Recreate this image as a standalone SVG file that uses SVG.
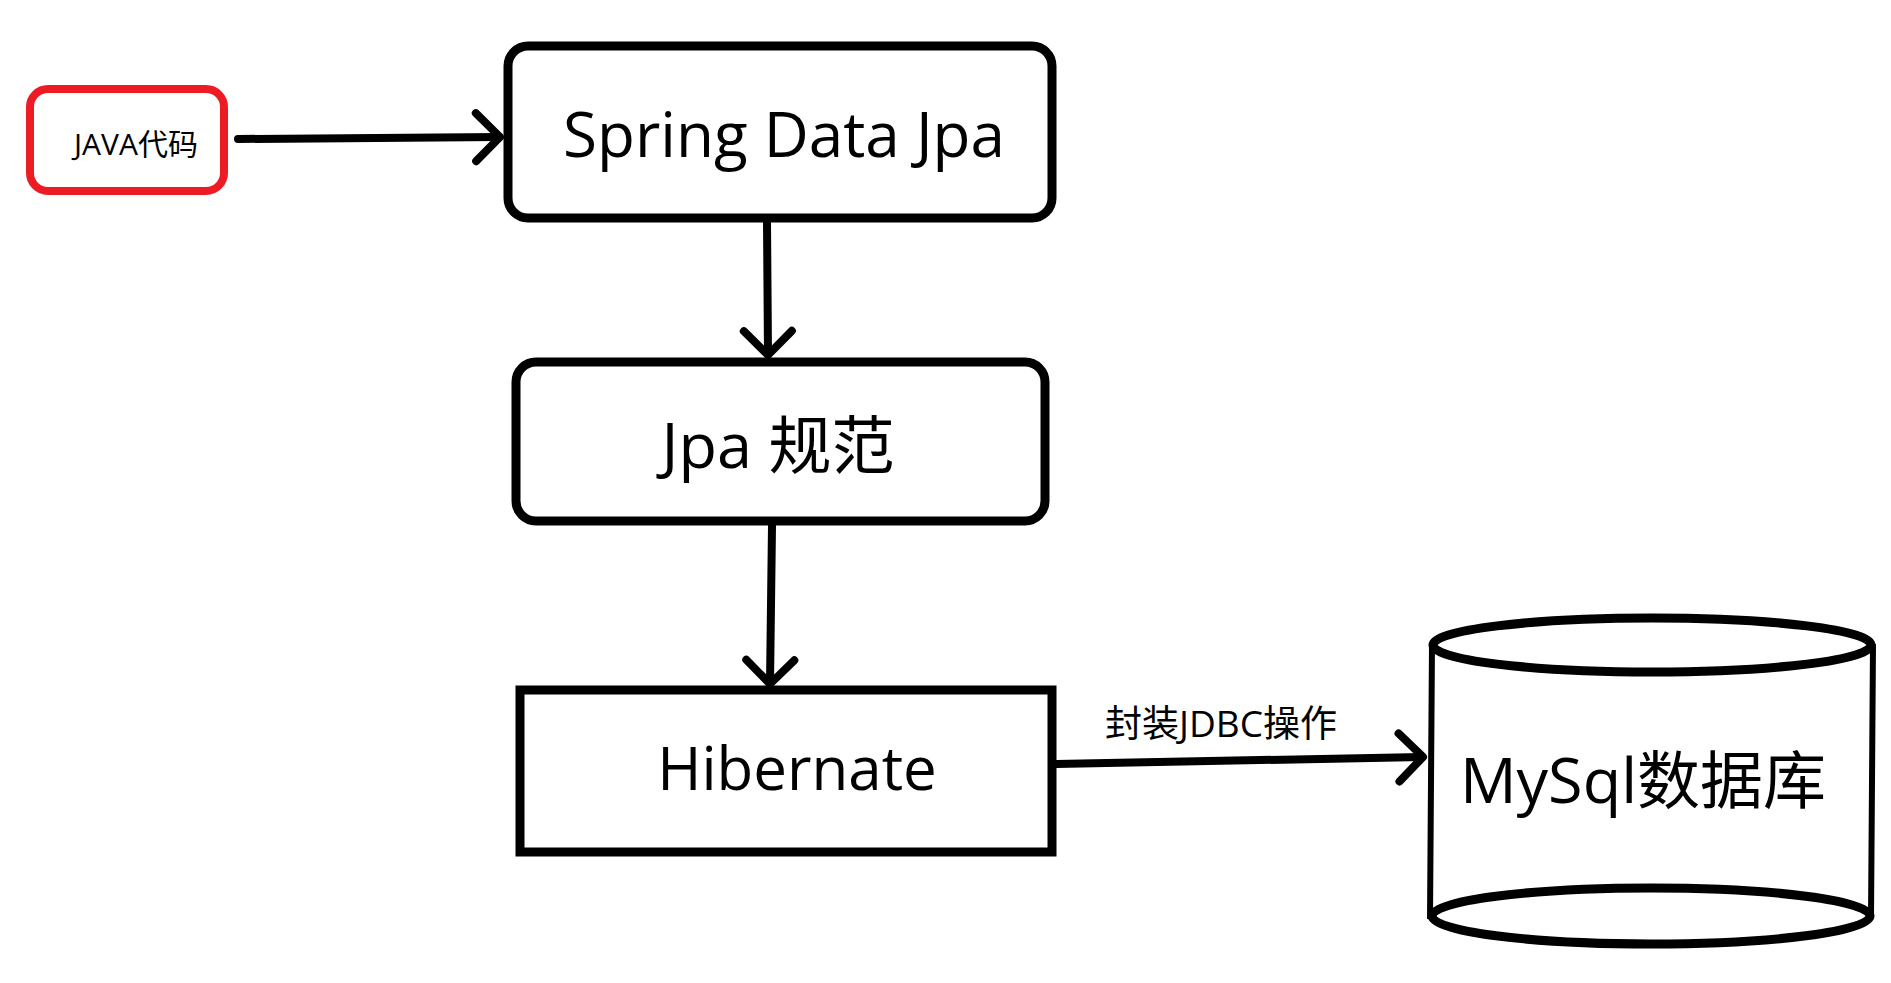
<svg xmlns="http://www.w3.org/2000/svg" width="1891" height="983" viewBox="0 0 1891 983">
<style>
.box{fill:#fff;stroke:#000;stroke-width:9}
.red{fill:#fff;stroke:#ed1c24;stroke-width:8}
.t{font-family:"Open Sans","Noto Sans CJK SC",sans-serif;fill:#000;text-anchor:middle}
.edge{stroke:#000;stroke-width:8;fill:none;stroke-linecap:round;marker-end:url(#chev)}
.cyl{stroke:#000;fill:none}
</style>
<defs>
<marker id="chev" viewBox="0 0 32 56" refX="27" refY="28" markerWidth="32" markerHeight="56" markerUnits="userSpaceOnUse" orient="auto" overflow="visible">
<path d="M4,4 L28,28 L4,52" fill="none" stroke="#000" stroke-width="8" stroke-linecap="round" stroke-linejoin="round"/>
</marker>
</defs>
<rect width="1891" height="983" fill="#fff"/>
<g id="connectors">
<path class="edge" d="M238,139 L499,137"/>
<path class="edge" d="M767,222 L768,354"/>
<path class="edge" d="M772,526 L770,683"/>
<path class="edge" d="M1056,764 L1422,757"/>
<text class="t" x="1221" y="737" font-size="37">封装JDBC操作</text>
</g>
<g id="java">
<rect class="red" x="30" y="89" width="194" height="102" rx="18"/>
<text class="t" x="136" y="155" font-size="30">JAVA代码</text>
</g>
<g id="spring">
<rect class="box" x="508" y="46" width="544" height="172" rx="20"/>
<text class="t" x="784" y="157" font-size="62">Spring Data Jpa</text>
</g>
<g id="jpa">
<rect class="box" x="516" y="362" width="529" height="159" rx="20"/>
<text class="t" x="778" y="468" font-size="63">Jpa 规范</text>
</g>
<g id="hibernate">
<rect class="box" x="520" y="690" width="532" height="162"/>
<text class="t" x="797" y="790" font-size="60">Hibernate</text>
</g>
<g id="mysql">
<path class="cyl" stroke-width="6" d="M1432,644 L1430,919 M1873,644 L1871,919"/>
<ellipse class="cyl" stroke-width="9" cx="1652" cy="645" rx="219" ry="27"/>
<ellipse class="cyl" stroke-width="9" cx="1651" cy="916" rx="219" ry="28"/>
<text class="t" x="1643" y="803" font-size="63">MySql数据库</text>
</g>
</svg>
